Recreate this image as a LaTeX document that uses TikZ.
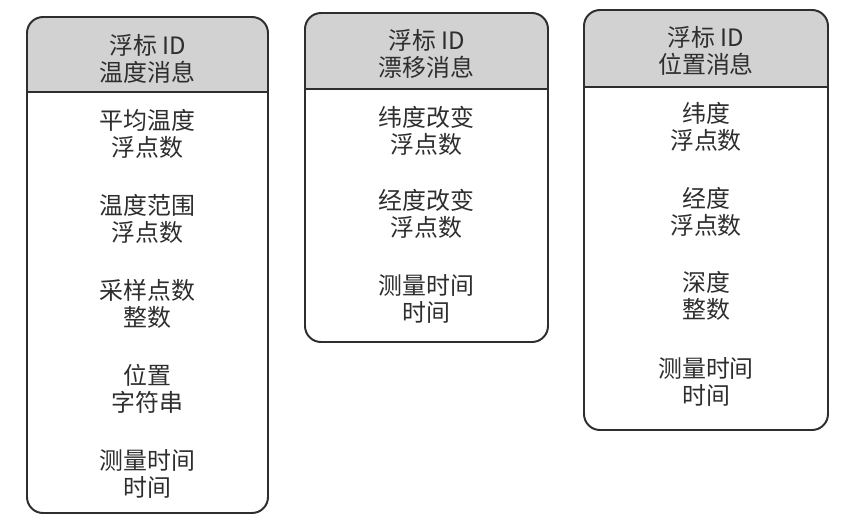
\documentclass[tikz,border=0pt]{standalone}
\usepackage{fontspec}
\newfontfamily\cjk{Noto Sans CJK SC}
\definecolor{headgray}{HTML}{D2D2D2}
\definecolor{inkgray}{HTML}{2E2E2E}

\begin{document}
\begin{tikzpicture}[
    x=0.025cm, y=-0.025cm,
    % Style definitions
    frame/.style={draw=inkgray, line width=1.4pt, rounded corners=0.4cm},
    head fill/.style={fill=headgray},
    rule line/.style={draw=inkgray, line width=1.4pt},
    % Text styles
    field/.style={font=\cjk\fontsize{17}{19.2}\selectfont, text=inkgray, align=center, inner sep=0pt},
    head text/.style={field}
]
\useasboundingbox (0,0) rectangle (862,529);

% ==========================================
% 1. TEMPERATURE MESSAGE (Left Box)
% ==========================================

% Header band
\fill[head fill] (27,92) {[rounded corners=0.4cm] -- (27,17) -- (268,17)} -- (268,92) -- cycle;
\draw[rule line] (27,92) -- (268,92);
% Outer frame
\draw[frame] (27,17) rectangle (268,513);

\node[head text] (temp_head) at (147.5,59) {浮标 ID\\温度消息};
\node[field] (temp_avg) at (147.5,133.5) {平均温度\\浮点数};
\node[field] (temp_range) at (147.5,218.5) {温度范围\\浮点数};
\node[field] (temp_count) at (147.5,303.5) {采样点数\\整数};
\node[field] (temp_pos) at (147.5,389) {位置\\字符串};
\node[field] (temp_time) at (147.5,473.5) {测量时间\\时间};

% ==========================================
% 2. DRIFT MESSAGE (Middle Box)
% ==========================================

\fill[head fill] (305,89) {[rounded corners=0.4cm] -- (305,13) -- (548,13)} -- (548,89) -- cycle;
\draw[rule line] (305,89) -- (548,89);
\draw[frame] (305,13) rectangle (548,342);

\node[head text] (drift_head) at (426.5,54) {浮标 ID\\漂移消息};
\node[field] (drift_lat) at (426.5,130.5) {纬度改变\\浮点数};
\node[field] (drift_lon) at (426.5,214) {经度改变\\浮点数};
\node[field] (drift_time) at (426.5,299) {测量时间\\时间};

% ==========================================
% 3. POSITION MESSAGE (Right Box)
% ==========================================

\fill[head fill] (584,87) {[rounded corners=0.4cm] -- (584,10) -- (828,10)} -- (828,87) -- cycle;
\draw[rule line] (584,87) -- (828,87);
\draw[frame] (584,10) rectangle (828,430);

\node[head text] (pos_head) at (706,51) {浮标 ID\\位置消息};
\node[field] (pos_lat) at (706,127) {纬度\\浮点数};
\node[field] (pos_lon) at (706,211.5) {经度\\浮点数};
\node[field] (pos_depth) at (706,296) {深度\\整数};
\node[field] (pos_time) at (706,382) {测量时间\\时间};

\end{tikzpicture}
\end{document}
